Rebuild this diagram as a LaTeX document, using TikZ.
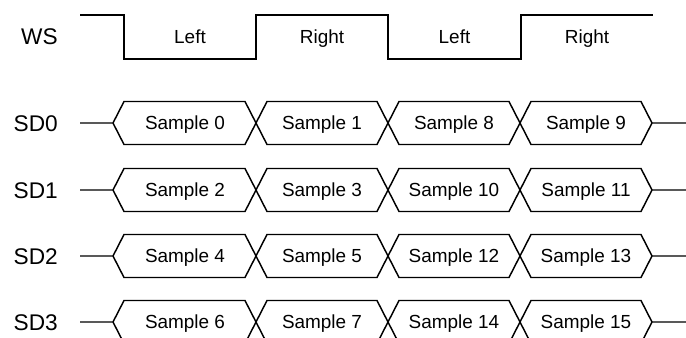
\documentclass[tikz,border=0pt]{standalone}
\usepackage{fontspec}
\setmainfont{Liberation Sans}
\begin{document}
\begin{tikzpicture}[x=0.75pt,y=-0.75pt,
  sig/.style={line width=1.1pt, line join=miter},
  siglabel/.style={font=\fontsize{17}{18}\selectfont, anchor=east, inner sep=0pt, text height=12.2pt, text depth=0pt},
  cell/.style={font=\fontsize{14.2}{16}\selectfont, inner sep=0pt, text height=10.2pt, text depth=0pt}]
\useasboundingbox (0,0) rectangle (686,337);
\clip (0,0) rectangle (686,337);
% WS
\node[siglabel] (ws) at (58,36) {WS};
\draw[sig] (80,15) -- (124,15) -- (124,59) -- (256,59) -- (256,15) -- (388,15) -- (388,59) -- (521,59) -- (521,15) -- (653,15);
\node[cell] (wsl1) at (190,37) {Left};
\node[cell] (wsr1) at (322,37) {Right};
\node[cell] (wsl2) at (454.5,37) {Left};
\node[cell] (wsr2) at (587,37) {Right};
% data rows
\def\h{21.5}
\foreach \y/\n/\a/\b/\c/\d in {123/0/0/1/8/9, 190/1/2/3/10/11, 256/2/4/5/12/13, 322/3/6/7/14/15}{
  \node[siglabel] (sd\n) at (58,\y) {SD\n};
  \draw[sig] (80,\y) -- (113,\y) -- (124,\y-\h) -- (245,\y-\h) -- (267,\y+\h) -- (377,\y+\h) -- (399,\y-\h) -- (509,\y-\h) -- (531,\y+\h) -- (641,\y+\h) -- (652,\y) -- (686,\y);
  \draw[sig] (113,\y) -- (124,\y+\h) -- (245,\y+\h) -- (267,\y-\h) -- (377,\y-\h) -- (399,\y+\h) -- (509,\y+\h) -- (531,\y-\h) -- (641,\y-\h) -- (652,\y);
  \node[cell] (s\n a) at (185,\y) {Sample \a};
  \node[cell] (s\n b) at (322,\y) {Sample \b};
  \node[cell] (s\n c) at (454,\y) {Sample \c};
  \node[cell] (s\n d) at (586,\y) {Sample \d};
}
\end{tikzpicture}
\end{document}
